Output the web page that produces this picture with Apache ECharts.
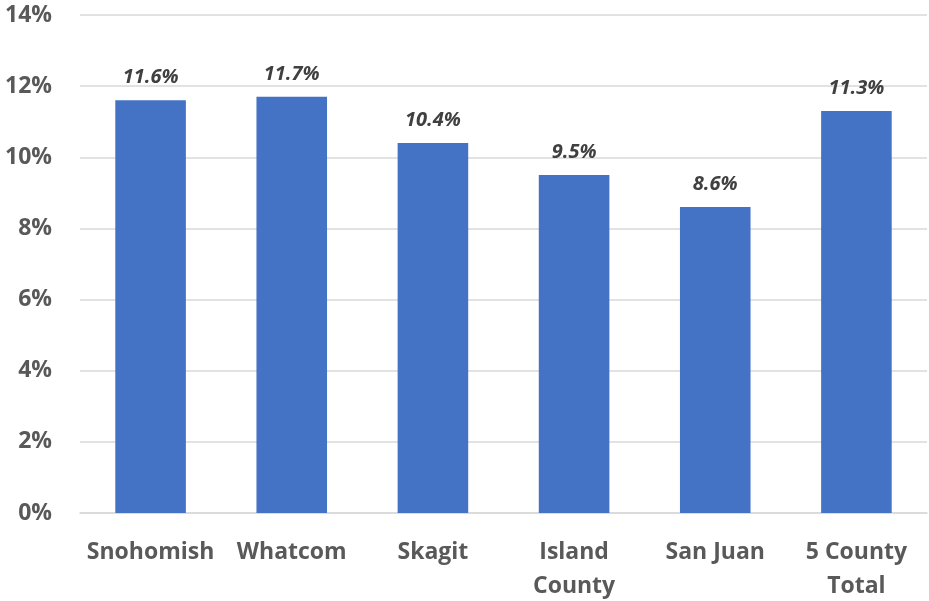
<!DOCTYPE html>
<html>
<head>
<meta charset="utf-8">
<script src="https://cdn.jsdelivr.net/npm/echarts@6/dist/echarts.min.js"></script>
<style>
  html, body { margin: 0; padding: 0; background: #fff; }
  #chart { width: 929px; height: 601px; }
</style>
</head>
<body>
<div id="chart"></div>
<script>
var counties = ["Snohomish", "Whatcom", "Skagit", "Island\nCounty", "San Juan", "5 County\nTotal"];
var rates = [11.6, 11.7, 10.4, 9.5, 8.6, 11.3];
var yTicks = [0, 2, 4, 6, 8, 10, 12, 14];

var chart = echarts.init(document.getElementById("chart"));

var option = {
  animation: false,
  grid: {
    left: 80,
    right: 2,
    top: 15,
    bottom: 88,
    containLabel: false,
    outerBoundsMode: "none"
  },
  xAxis: {
    type: "category",
    data: counties,
    axisTick: { show: false },
    axisLine: { lineStyle: { color: "#d9d9d9", width: 1.5 } },
    axisLabel: {
      interval: 0,
      margin: 22,
      color: "#595959",
      fontFamily: "Open Sans",
      fontWeight: "bold",
      fontSize: 23,
      lineHeight: 34
    }
  },
  yAxis: {
    type: "value",
    min: yTicks[0],
    max: yTicks[yTicks.length - 1],
    interval: 2,
    axisLine: { show: false },
    axisTick: { show: false },
    splitLine: { lineStyle: { color: "#d9d9d9", width: 1.5 } },
    axisLabel: {
      margin: 28,
      color: "#595959",
      fontFamily: "Open Sans",
      fontWeight: "bold",
      fontSize: 23,
      formatter: function (v) { return v + "%"; }
    }
  },
  series: [
    {
      type: "bar",
      data: rates,
      barWidth: "50%",
      itemStyle: { color: "#4472c4" },
      label: {
        show: true,
        position: "top",
        distance: 13,
        color: "#404040",
        fontFamily: "Open Sans",
        fontStyle: "italic",
        fontWeight: "bold",
        fontSize: 20,
        formatter: function (p) { return p.value.toFixed(1) + "%"; }
      }
    }
  ]
};

chart.setOption(option);
</script>
</body>
</html>
